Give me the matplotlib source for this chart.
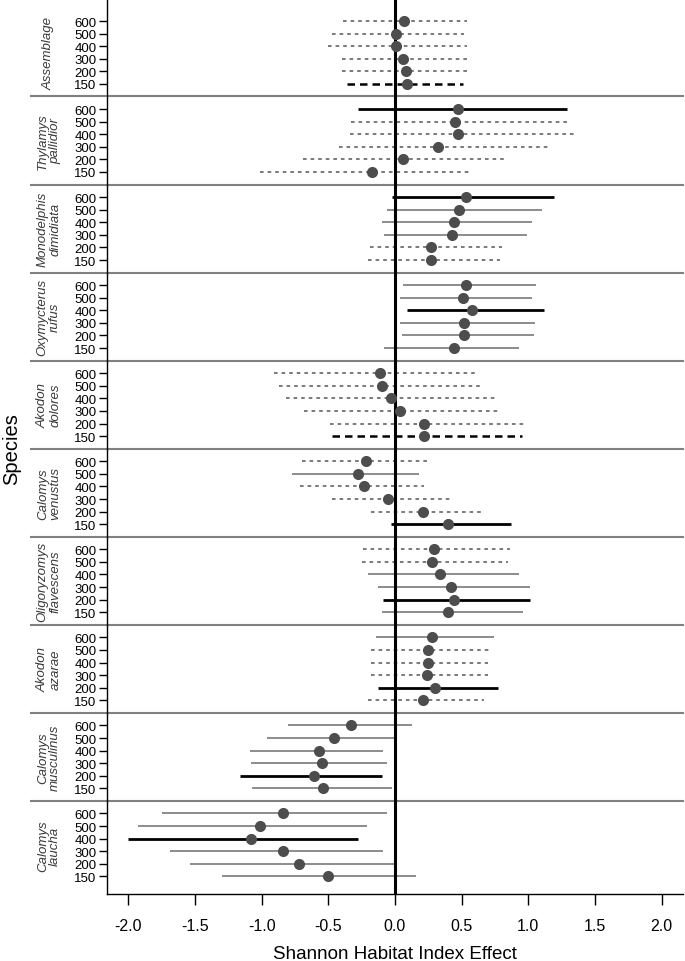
import matplotlib
matplotlib.use("Agg")
import matplotlib.pyplot as plt
import matplotlib.transforms as mtransforms

plt.rcParams["font.family"] = ["Liberation Sans", "DejaVu Sans"]

species = ["Assemblage", "Thylamys\npallidior", "Monodelphis\ndimidiata",
           "Oxymycterus\nrufus", "Akodon\ndolores", "Calomys\nvenustus",
           "Oligoryzomys\nflavescens", "Akodon\nazarae", "Calomys\nmusculinus",
           "Calomys\nlaucha"]
scales = ["600", "500", "400", "300", "200", "150"]

# estimate, lower and upper bound per species (rows: 600 ... 150)
estimate = [
    [0.07, 0.01, 0.01, 0.06, 0.08, 0.09],
    [0.47, 0.45, 0.47, 0.32, 0.06, -0.17],
    [0.53, 0.48, 0.44, 0.43, 0.27, 0.27],
    [0.53, 0.51, 0.58, 0.52, 0.52, 0.44],
    [-0.11, -0.10, -0.03, 0.04, 0.22, 0.22],
    [-0.22, -0.28, -0.23, -0.05, 0.21, 0.40],
    [0.29, 0.28, 0.34, 0.42, 0.44, 0.40],
    [0.28, 0.25, 0.25, 0.24, 0.30, 0.21],
    [-0.33, -0.46, -0.57, -0.55, -0.61, -0.54],
    [-0.84, -1.01, -1.08, -0.84, -0.72, -0.50],
]
lower = [
    [-0.39, -0.47, -0.50, -0.40, -0.40, -0.36],
    [-0.28, -0.33, -0.34, -0.42, -0.69, -1.01],
    [-0.02, -0.06, -0.10, -0.08, -0.19, -0.20],
    [0.06, 0.04, 0.09, 0.04, 0.05, -0.08],
    [-0.91, -0.87, -0.82, -0.68, -0.49, -0.47],
    [-0.70, -0.77, -0.71, -0.47, -0.18, -0.03],
    [-0.24, -0.25, -0.20, -0.13, -0.09, -0.10],
    [-0.14, -0.18, -0.18, -0.18, -0.13, -0.20],
    [-0.80, -0.96, -1.09, -1.08, -1.16, -1.07],
    [-1.75, -1.93, -2.00, -1.69, -1.54, -1.30],
]
upper = [
    [0.54, 0.52, 0.54, 0.54, 0.54, 0.51],
    [1.29, 1.30, 1.35, 1.16, 0.84, 0.57],
    [1.19, 1.10, 1.03, 0.99, 0.80, 0.79],
    [1.06, 1.03, 1.12, 1.05, 1.04, 0.93],
    [0.62, 0.66, 0.75, 0.79, 0.98, 0.95],
    [0.24, 0.18, 0.22, 0.41, 0.65, 0.87],
    [0.86, 0.85, 0.93, 1.01, 1.01, 0.96],
    [0.74, 0.71, 0.70, 0.70, 0.77, 0.67],
    [0.13, -0.01, -0.09, -0.06, -0.10, -0.02],
    [-0.06, -0.21, -0.28, -0.09, 0.00, 0.16],
]
# g = grey solid, d = grey dotted, k = black solid, kd = black dashed
line_type = [
    ["d", "d", "d", "d", "d", "kd"],
    ["k", "d", "d", "d", "d", "d"],
    ["k", "g", "g", "g", "d", "d"],
    ["g", "g", "k", "g", "g", "g"],
    ["d", "d", "d", "d", "d", "kd"],
    ["d", "g", "d", "d", "d", "k"],
    ["d", "d", "g", "g", "k", "g"],
    ["g", "d", "d", "d", "k", "d"],
    ["g", "g", "g", "g", "k", "g"],
    ["g", "g", "k", "g", "g", "g"],
]

styles = {
    "g": dict(color="#8c8c8c", lw=1.4, ls="-"),
    "d": dict(color="#707070", lw=1.3, ls=(0, (2.0, 2.2))),
    "k": dict(color="black", lw=2.0, ls="-"),
    "kd": dict(color="black", lw=1.8, ls=(0, (3.0, 2.0))),
}

fig = plt.figure(figsize=(6.85, 9.62), dpi=100)
ax = fig.add_axes([107 / 685, 67 / 962, 576 / 685, 895 / 962])

step = 7
ypos, ylabels = [], []
for i, sp in enumerate(species):
    for j, sc in enumerate(scales):
        y = i * step + j
        ypos.append(y)
        ylabels.append(sc)
        ax.plot([lower[i][j], upper[i][j]], [y, y], zorder=2,
                solid_capstyle="butt", dash_capstyle="butt", **styles[line_type[i][j]])
        ax.plot(estimate[i][j], y, "o", ms=8, color="#4d4d4d", mec="none", zorder=4)

trans = mtransforms.blended_transform_factory(ax.transAxes, ax.transData)
for i in range(len(species) - 1):
    ys = i * step + 6
    ax.plot([-76 / 576, 1], [ys, ys], color="#808080", lw=1.5, transform=trans,
            clip_on=False, zorder=1)
for i, sp in enumerate(species):
    ax.text(-58 / 576, i * step + 2.5, sp, transform=trans, rotation=90,
            ha="center", va="center", fontsize=9.5, style="italic",
            color="#3a3a3a", linespacing=1.05)

ax.axvline(0, color="black", lw=2.2, zorder=3)

ax.set_xlim(-2.16, 2.16)
ax.set_ylim(69.4, -1.75)
ax.set_xticks([-2.0, -1.5, -1.0, -0.5, 0.0, 0.5, 1.0, 1.5, 2.0])
ax.set_xticklabels(["-2.0", "-1.5", "-1.0", "-0.5", "0.0", "0.5", "1.0", "1.5", "2.0"])
ax.set_yticks(ypos)
ax.set_yticklabels(ylabels)
ax.tick_params(axis="y", labelsize=9.5, length=5.5, width=1, pad=2, colors="black")
ax.tick_params(axis="x", labelsize=11.5, length=8, width=1, pad=9)
for s in ["top", "right"]:
    ax.spines[s].set_visible(False)
ax.spines["left"].set_linewidth(1.0)
ax.spines["bottom"].set_linewidth(1.0)

ax.set_xlabel("Shannon Habitat Index Effect", fontsize=13.5, labelpad=9)
fig.text(12 / 685, 1 - 449 / 962, "Species", rotation=90, ha="center",
         va="center", fontsize=14.5)

fig.savefig("out.png", dpi=100)
